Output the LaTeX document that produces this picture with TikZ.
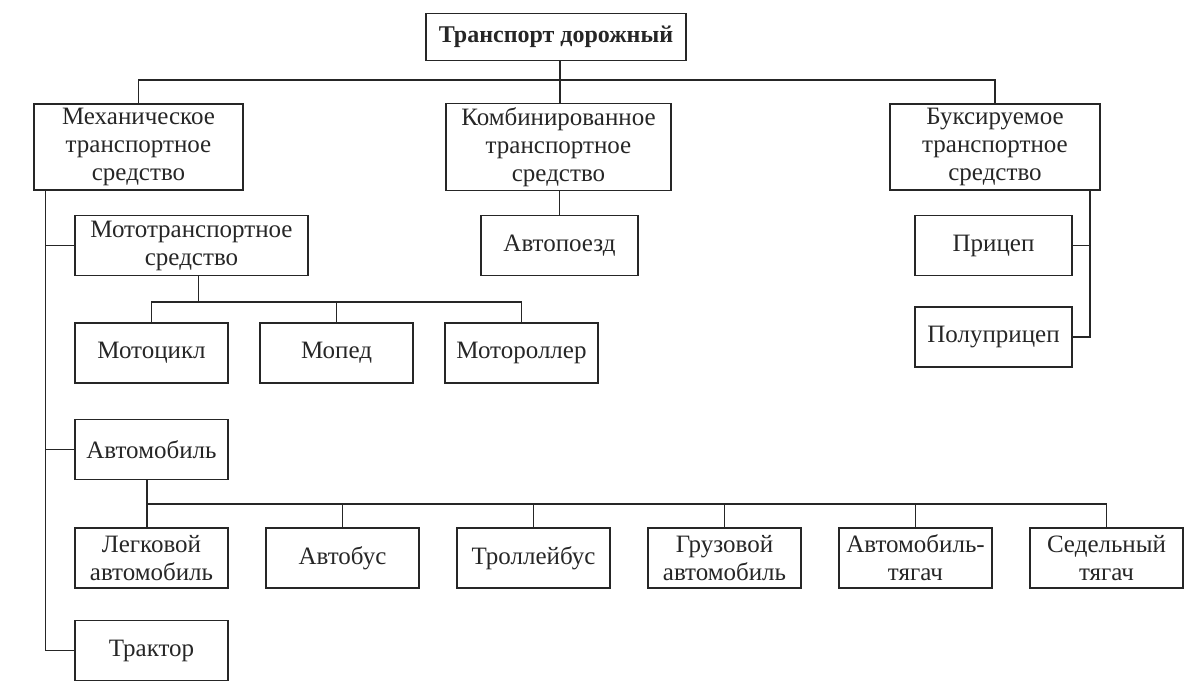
\documentclass[tikz,border=0pt]{standalone}
\usepackage{fontspec}
\setmainfont{Liberation Serif}
\usetikzlibrary{positioning, calc}

\begin{document}
\begin{tikzpicture}[x=0.5pt, y=-0.5pt, line width=0.7pt, color=black!85,
    box/.style={draw, align=center, inner sep=2pt, minimum height=30pt,
                font=\fontsize{12.5}{14}\selectfont},
    kleinbox/.style={box, minimum width=76.5pt}]
  \useasboundingbox (0,0) rectangle (1200,694);
  % Ebene 1
  \node at (556,37) [box, font=\fontsize{12}{14}\selectfont\bfseries, minimum width=130pt, minimum height=23.5pt] (transport) {Транспорт дорожный};
  \node at (138.5,147) [box, minimum width=104.5pt, minimum height=43pt] (mech) {Механическое\\транспортное\\средство};
  \node at (558.5,147) [box, minimum width=112.5pt, minimum height=43pt] (komb) {Комбинированное\\транспортное\\средство};
  \node at (995,147) [box, minimum width=105pt, minimum height=43pt] (buks) {Буксируемое\\транспортное\\средство};
  % Ebene 2
  \node at (191.5,245.5) [box, minimum width=116.5pt] (moto) {Мототранспортное\\средство};
  \node at (559.5,245.5) [box, minimum width=78.5pt] (avtopoezd) {Автопоезд};
  \node at (993.5,245.5) [box, minimum width=78.5pt] (pricep) {Прицеп};
  \node [below=15pt of pricep, box, minimum width=78.5pt] (polupricep) {Полуприцеп};
  % Mototransport
  \node at (151.5,353) [kleinbox] (motocikl) {Мотоцикл};
  \node [right=15.3pt of motocikl, kleinbox] (moped) {Мопед};
  \node [right=15.3pt of moped, kleinbox] (motoroller) {Мотороллер};
  % Automobil
  \node at (151.5,449.5) [kleinbox] (avto) {Автомобиль};
  \node at (151.5,558) [kleinbox] (legkovoj) {Легковой\\автомобиль};
  \node [right=18.3pt of legkovoj, kleinbox] (avtobus) {Автобус};
  \node [right=18.3pt of avtobus, kleinbox] (trollejbus) {Троллейбус};
  \node [right=18.3pt of trollejbus, kleinbox] (gruzovoj) {Грузовой\\автомобиль};
  \node [right=18.3pt of gruzovoj, kleinbox] (tjagach) {Автомобиль-\\тягач};
  \node [right=18.3pt of tjagach, kleinbox] (sedelnyj) {Седельный\\тягач};
  \node at (151.5,650.5) [kleinbox] (traktor) {Трактор};

  % Linien oben
  \coordinate (hbus) at (560,80);
  \draw (transport.south -| hbus) -- (hbus |- komb.north);
  \draw (mech.north) |- (hbus) -| (buks.north);
  \draw (komb.south -| avtopoezd.north) -- (avtopoezd.north);
  % linker Stamm
  \coordinate (mstamm) at (45.5,0);
  \draw (mech.south -| mstamm) |- (traktor.west);
  \draw (mstamm |- moto.west) -- (moto.west);
  \draw (mstamm |- avto.west) -- (avto.west);
  % Mototransport
  \coordinate (mbus) at (198.5,302);
  \draw (moto.south -| mbus) -- (mbus);
  \draw (motocikl.north) |- (mbus) -| (motoroller.north);
  \draw (moped.north) -- (moped.north |- mbus);
  % Automobil
  \coordinate (abus) at (147,504);
  \draw (avto.south -| abus) -- (abus |- legkovoj.north);
  \draw (abus) -| (sedelnyj.north);
  \foreach \n in {avtobus, trollejbus, gruzovoj, tjagach}
    \draw (\n.north) -- (\n.north |- abus);
  % Buksiruemoe
  \coordinate (bstamm) at (1090,0);
  \draw (buks.south -| bstamm) |- (polupricep.east);
  \draw (bstamm |- pricep.east) -- (pricep.east);
\end{tikzpicture}
\end{document}
